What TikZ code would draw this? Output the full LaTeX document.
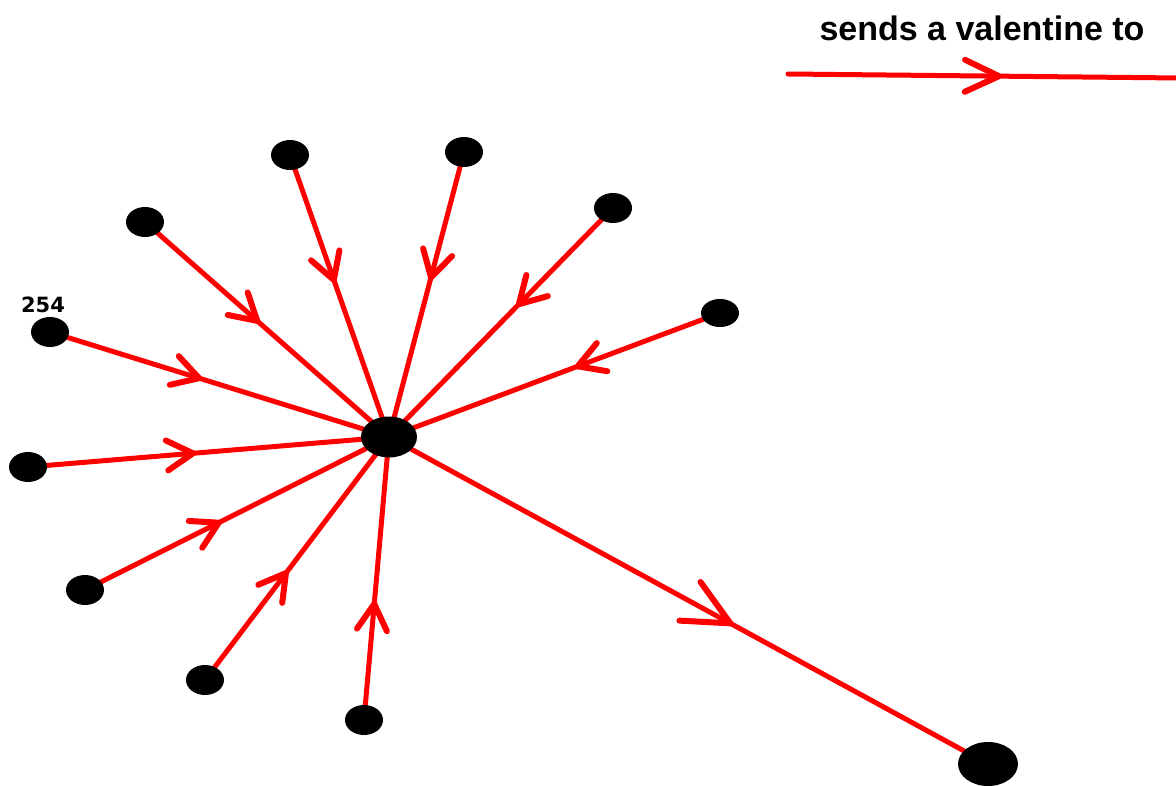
\documentclass[tikz,border=0pt]{standalone}
\usepackage{fontspec}
\setmainfont{Liberation Sans}
\newfontfamily\digitfont{DejaVu Sans}
\usetikzlibrary{decorations.markings,backgrounds,shapes.geometric}

\definecolor{valred}{RGB}{255,0,0}

\tikzset{
  person/.style={ellipse,fill=black,inner sep=0pt,minimum width=38pt,minimum height=30pt},
  hub/.style={ellipse,fill=black,inner sep=0pt,minimum width=56pt,minimum height=41pt},
  bigperson/.style={ellipse,fill=black,inner sep=0pt,minimum width=60pt,minimum height=44pt},
  sendline/.style={draw=valred,line width=5pt,line cap=round},
  barbpen/.style={draw=valred,line width=6pt,line cap=round,line join=round},
  % open V-shaped head placed part way along a line: position, length, half width
  barbat/.style n args={3}{postaction={decorate},decoration={markings,
      mark=at position #1 with {\draw[barbpen] (-#2,#3) -- (0pt,0pt) -- (-#2,-#3);}}},
  arrowat/.style={barbat={#1}{26pt}{15pt}},
  bigarrowat/.style={barbat={#1}{46pt}{22pt}},
  legarrowat/.style={barbat={#1}{34pt}{16pt}},
}

\begin{document}
\begin{tikzpicture}[x=1pt,y=-1pt]
  \useasboundingbox (0,0) rectangle (1176,786);

  % legend
  \node[anchor=base,font=\bfseries\fontsize{34}{40}\selectfont] (legtext) at (982,41) {sends a valentine to};
  \coordinate (legA) at (788,74);
  \coordinate (legB) at (1180,78);
  \draw[sendline,legarrowat=0.538] (legA) -- (legB);

  % people
  \node[hub] (c) at (389,437) {};
  \node[person] (p1) at (290,155) {};
  \node[person] (p2) at (464,152) {};
  \node[person] (p3) at (145,222) {};
  \node[person] (p4) at (613,208) {};
  \node[person,minimum width=38pt,minimum height=28pt] (p5) at (720,313) {};
  \node[person] (p6) at (50,332) {};
  \node[person] (p7) at (28,467) {};
  \node[person] (p8) at (85,590) {};
  \node[person] (p9) at (205,680) {};
  \node[person] (p10) at (364,720) {};
  \node[bigperson] (k) at (988,764) {};

  \node[font=\digitfont\bfseries\fontsize{21}{24}\selectfont] (lab) at (43,305) {254};

  % valentines
  \begin{pgfonlayer}{background}
    \draw[sendline,arrowat=0.443] (p1.center) -- (c.center);
    \draw[sendline,arrowat=0.44] (p2.center) -- (c.center);
    \draw[sendline,arrowat=0.46] (p3.center) -- (c.center);
    \draw[sendline,arrowat=0.42] (p4.center) -- (c.center);
    \draw[sendline,arrowat=0.43] (p5.center) -- (c.center);
    \draw[sendline,arrowat=0.44] (p6.center) -- (c.center);
    \draw[sendline,arrowat=0.457] (p7.center) -- (c.center);
    \draw[sendline,arrowat=0.44] (p8.center) -- (c.center);
    \draw[sendline,arrowat=0.44] (p9.center) -- (c.center);
    \draw[sendline,arrowat=0.41] (p10.center) -- (c.center);
    \draw[sendline,bigarrowat=0.57] (c.center) -- (k.center);
  \end{pgfonlayer}
\end{tikzpicture}
\end{document}
